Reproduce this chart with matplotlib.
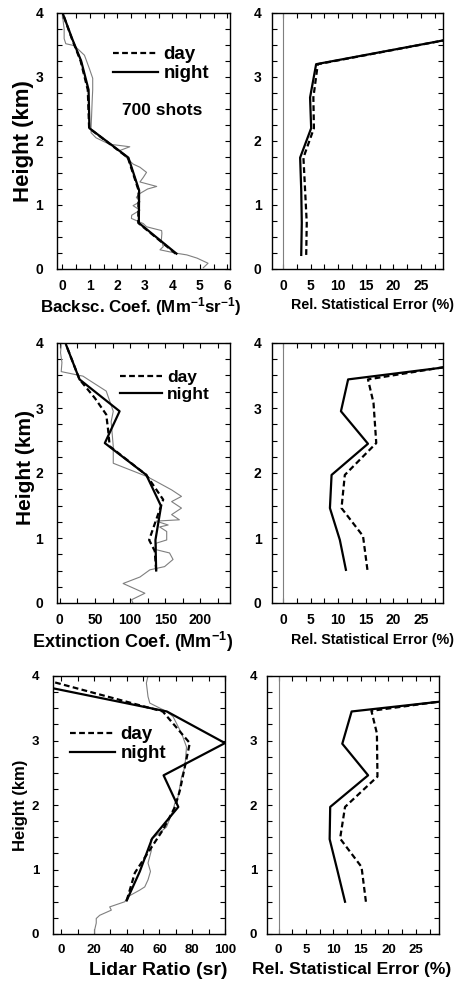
import matplotlib
matplotlib.use('Agg')
import matplotlib.pyplot as plt
from matplotlib.ticker import MultipleLocator

plt.rcParams['font.family'] = ['Liberation Sans', 'DejaVu Sans']
plt.rcParams['font.weight'] = 'bold'
plt.rcParams['mathtext.fontset'] = 'custom'
plt.rcParams['mathtext.rm'] = 'Liberation Sans:bold'
plt.rcParams['mathtext.bf'] = 'Liberation Sans:bold'
plt.rcParams['mathtext.it'] = 'Liberation Sans:bold'
plt.rcParams['mathtext.default'] = 'rm'

# ---------------- data ----------------
# Panel 1: backscatter coefficient (Mm^-1 sr^-1)
bsc_h = [0.24, 0.72, 1.23, 1.74, 2.20, 2.80, 3.25, 3.60, 3.97]
bsc_night = [4.15, 2.78, 2.79, 2.40, 0.98, 0.95, 0.68, 0.35, 0.03]
bsc_day = [4.12, 2.76, 2.77, 2.38, 0.97, 0.92, 0.66, 0.34, 0.03]
bsc_raw_h = [0.02, 0.09, 0.17, 0.22, 0.25, 0.30, 0.35, 0.45, 0.56, 0.60, 0.66, 0.71, 0.79,
             0.84, 0.92, 0.99, 1.05, 1.12, 1.18, 1.25, 1.29, 1.36, 1.43, 1.51, 1.59, 1.64,
             1.74, 1.85, 1.91, 1.95, 2.05, 2.13, 2.20, 2.40, 2.62, 2.80, 2.98, 3.13, 3.34,
             3.49, 3.52, 3.60, 3.75, 3.96]
bsc_raw = [5.13, 5.30, 4.90, 4.53, 4.10, 3.55, 3.67, 3.60, 3.62, 3.61, 3.06, 2.94, 2.51,
           2.52, 2.82, 2.57, 2.82, 2.69, 2.82, 3.10, 3.43, 2.82, 2.94, 3.06, 2.82, 2.57,
           2.33, 2.08, 2.45, 1.71, 1.22, 1.04, 1.04, 1.06, 1.08, 1.10, 1.10, 0.98, 0.80,
           0.43, 0.12, 0.06, 0.06, 0.00]

# Panel 2: relative statistical error of backscatter (%)
err1_h = [0.22, 0.72, 1.23, 1.74, 2.20, 2.68, 3.20, 3.70]
err1_night = [3.3, 3.4, 3.3, 3.1, 5.1, 4.9, 6.0, 37.0]
err1_day = [4.2, 4.3, 4.0, 3.7, 5.6, 5.5, 6.3, 37.0]

# Panel 3: extinction coefficient (Mm^-1)
ext_h_night = [0.50, 0.97, 1.49, 1.97, 2.46, 2.95, 3.44, 3.97]
ext_night = [137, 136, 144, 123, 64, 85, 28, 9]
ext_h_day = [0.50, 0.80, 0.97, 1.28, 1.59, 1.97, 2.41, 2.67, 2.90, 3.15, 3.44, 3.97]
ext_day = [137, 135, 127, 137, 147, 123, 71, 68.6, 66, 50, 28, 9]
ext_raw_h = [0.00, 0.05, 0.15, 0.30, 0.40, 0.51, 0.56, 0.67, 0.77, 0.82, 0.92, 0.97, 1.05,
             1.10, 1.17, 1.20, 1.26, 1.28, 1.36, 1.46, 1.56, 1.64, 1.74, 1.87, 1.95, 2.15,
             2.41, 2.79, 2.95, 3.26, 3.44, 3.49, 3.56, 3.70, 3.85, 3.97]
ext_raw = [104, 102, 121, 90, 114, 128, 149, 161, 156, 137, 137, 152, 152,
           152, 142, 154, 137, 170, 159, 173, 159, 173, 159, 137, 123, 76,
           76, 73, 76, 66, 40, 33, 2, 3, 1, 2]

# Panel 4: relative statistical error of extinction (%)
err2_h_night = [0.51, 0.97, 1.46, 1.97, 2.45, 2.95, 3.44, 3.75]
err2_night = [11.4, 10.3, 8.5, 8.8, 15.4, 10.5, 11.8, 41.0]
err2_h_day = [0.51, 1.03, 1.46, 1.97, 2.46, 3.08, 3.44, 3.75]
err2_day = [15.3, 14.5, 10.6, 11.2, 16.9, 16.4, 15.4, 38.0]

# Panel 5: lidar ratio (sr)
lr_h_night = [0.52, 0.97, 1.48, 1.97, 2.46, 2.96, 3.45, 3.97]
lr_night = [40, 48, 55.5, 71.5, 62.5, 100, 64.5, -36]
lr_h_day = [0.52, 0.95, 1.30, 1.61, 1.97, 2.23, 2.96, 3.45, 3.97]
lr_day = [40, 45, 54, 62, 69.5, 72.5, 78.5, 62, -14]
lr_raw_h = [0.01, 0.06, 0.17, 0.24, 0.29, 0.37, 0.42, 0.50, 0.58, 0.68, 0.73, 0.84, 0.97,
            1.10, 1.30, 1.46, 1.53, 1.66, 1.92, 2.03, 2.13, 2.28, 2.44, 2.59, 2.90,
            3.11, 3.37, 3.45, 3.58, 3.68, 3.89, 4.00]
lr_raw = [20.4, 20.4, 21.4, 21.4, 23.5, 30.6, 29.6, 38.8, 40.8, 47.9, 51.0, 53.0, 54.5,
          53.0, 55.1, 54.5, 58.2, 64.3, 68.3, 69.4, 71.4, 72.4, 73.5, 75.5, 76.5,
          73.5, 68.3, 64.3, 54.1, 53.0, 52.0, 53.0]

# Panel 6: relative statistical error of lidar ratio (%)
err3_h_night = [0.50, 0.99, 1.47, 1.97, 2.46, 2.95, 3.45, 3.75]
err3_night = [12.1, 10.7, 9.3, 9.4, 16.3, 11.6, 13.3, 45.0]
err3_h_day = [0.50, 1.04, 1.48, 1.97, 2.44, 3.11, 3.46, 3.75]
err3_day = [15.9, 15.1, 11.2, 12.1, 18.0, 17.9, 16.9, 42.0]

legend_labels = ['day', 'night']
shots_text = '700 shots'

# ---------------- figure ----------------
W, H = 456, 985
fig = plt.figure(figsize=(W / 100, H / 100), dpi=100)


def add_ax(l, r, t, b):
    return fig.add_axes([l / W, 1 - b / H, (r - l) / W, (b - t) / H])


DASH = (0, (2.6, 1.5))
LW = 1.6
GRAY = '#7f7f7f'


def style(ax, xlim, major, minor, ypad, lsize):
    ax.set_xlim(*xlim)
    ax.set_ylim(0, 4)
    ax.xaxis.set_major_locator(MultipleLocator(major))
    ax.xaxis.set_minor_locator(MultipleLocator(minor))
    ax.yaxis.set_major_locator(MultipleLocator(1))
    ax.yaxis.set_minor_locator(MultipleLocator(0.25))
    ax.tick_params(which='both', direction='in', top=True, right=True,
                   length=3.5, width=0.8, labelsize=lsize)
    ax.tick_params(axis='x', which='both', pad=7.5)
    ax.tick_params(axis='y', which='both', pad=ypad)
    for s in ax.spines.values():
        s.set_linewidth(1.0)
    for lab in ax.get_xticklabels() + ax.get_yticklabels():
        lab.set_fontweight('bold')


def profile(ax, hd, vd, hn, vn, raw_h=None, raw_v=None):
    if raw_h is not None:
        ax.plot(raw_v, raw_h, color=GRAY, lw=0.8)
    ld, = ax.plot(vd, hd, color='black', lw=LW, linestyle=DASH, label=legend_labels[0])
    ln, = ax.plot(vn, hn, color='black', lw=LW, label=legend_labels[1])
    return ld, ln


def leg(ax, x, y, size):
    ax.legend(loc='upper left', bbox_to_anchor=(x, y), frameon=False,
              prop={'size': size, 'weight': 'bold'}, handlelength=2.4,
              handletextpad=0.3, labelspacing=0.1, borderpad=0, borderaxespad=0)


def ylab(ax, x, y, size):
    ax.set_ylabel('Height (km)', fontsize=size, fontweight='bold')
    ax.yaxis.set_label_coords(x, y)


def xlab(ax, text, x, y, size):
    ax.set_xlabel(text, fontsize=size, fontweight='bold')
    ax.xaxis.set_label_coords(x, y)


# Row 1
ax1 = add_ax(57, 230, 13, 269)
profile(ax1, bsc_h, bsc_day, bsc_h, bsc_night, bsc_raw_h, bsc_raw)
style(ax1, (-0.2, 6.1), 1, 0.5, 10, 10)
leg(ax1, 0.324, 0.87, 13.5)
ax1.text(0.61, 0.62, shots_text, transform=ax1.transAxes, fontsize=12.5,
         fontweight='bold', ha='center', va='center')
ylab(ax1, -0.135, 0.5, 16)
xlab(ax1, r'Backsc. Coef. (Mm$^{-1}$sr$^{-1}$)', 0.48, -0.1, 12.2)

ax2 = add_ax(272, 443, 13, 269)
ax2.axvline(0, color=GRAY, lw=0.8)
profile(ax2, err1_h, err1_day, err1_h, err1_night)
style(ax2, (-2, 29), 5, 2.5, 7.5, 10)
xlab(ax2, 'Rel. Statistical Error (%)', 0.59, -0.115, 10.3)

# Row 2
ax3 = add_ax(57, 230, 343, 603)
profile(ax3, ext_h_day, ext_day, ext_h_night, ext_night, ext_raw_h, ext_raw)
style(ax3, (-4, 242), 50, 25, 10, 10)
leg(ax3, 0.364, 0.895, 12.5)
ylab(ax3, -0.125, 0.52, 15)
xlab(ax3, r'Extinction Coef. (Mm$^{-1}$)', 0.434, -0.105, 13)

ax4 = add_ax(272, 443, 343, 603)
ax4.axvline(0, color=GRAY, lw=0.8)
profile(ax4, err2_h_day, err2_day, err2_h_night, err2_night)
style(ax4, (-2, 29), 5, 2.5, 7.5, 10)
xlab(ax4, 'Rel. Statistical Error (%)', 0.59, -0.115, 10.3)

# Row 3
ax5 = add_ax(53, 225, 676, 934)
profile(ax5, lr_h_day, lr_day, lr_h_night, lr_night, lr_raw_h, lr_raw)
style(ax5, (-5, 100), 20, 10, 10, 9.5)
leg(ax5, 0.099, 0.805, 13.5)
ylab(ax5, -0.145, 0.5, 12)
xlab(ax5, 'Lidar Ratio (sr)', 0.61, -0.11, 14)

ax6 = add_ax(267, 439, 676, 934)
ax6.axvline(0, color=GRAY, lw=0.8)
profile(ax6, err3_h_day, err3_day, err3_h_night, err3_night)
style(ax6, (-2.1, 29.2), 5, 2.5, 7, 9.5)
xlab(ax6, 'Rel. Statistical Error (%)', 0.494, -0.11, 12.6)

fig.savefig('out.png', dpi=100)
